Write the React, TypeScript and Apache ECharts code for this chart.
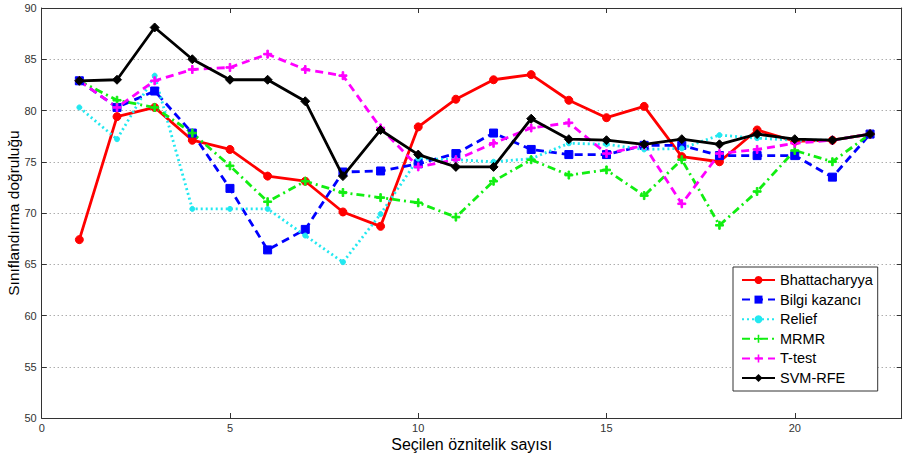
import React, { useEffect, useRef } from "react";
import * as echarts from "echarts";

const featureCounts = [1, 2, 3, 4, 5, 6, 7, 8, 9, 10, 11, 12, 13, 14, 15, 16, 17, 18, 19, 20, 21, 22];
const bhattacharyya = [67.4, 79.4, 80.3, 77.1, 76.2, 73.6, 73.1, 70.1, 68.7, 78.4, 81.1, 83.0, 83.5, 81.0, 79.3, 80.4, 75.5, 75.0, 78.1, 77.0, 77.1, 77.7];
const bilgiKazanci = [82.9, 80.3, 81.9, 77.8, 72.4, 66.4, 68.4, 74.0, 74.1, 74.8, 75.8, 77.8, 76.2, 75.7, 75.7, 76.6, 76.6, 75.6, 75.6, 75.6, 73.5, 77.7];
const relief = [80.3, 77.2, 83.4, 70.4, 70.4, 70.4, 67.8, 65.2, 69.9, 75.3, 75.2, 75.0, 75.3, 76.8, 76.7, 76.2, 76.3, 77.6, 77.3, 77.1, 77.1, 77.7];
const mrmr = [82.9, 81.0, 80.3, 77.8, 74.6, 71.1, 73.1, 72.0, 71.5, 71.0, 69.6, 73.1, 75.2, 73.7, 74.2, 71.7, 75.2, 68.8, 72.1, 76.1, 75.0, 77.7];
const tTest = [82.9, 80.3, 82.9, 84.0, 84.2, 85.5, 84.0, 83.4, 78.3, 74.5, 75.2, 76.8, 78.3, 78.8, 75.8, 76.6, 70.9, 75.8, 76.2, 76.8, 77.1, 77.7];
const svmRfe = [82.9, 83.0, 88.1, 85.0, 83.0, 83.0, 80.9, 73.6, 78.1, 75.7, 74.5, 74.5, 79.2, 77.2, 77.1, 76.7, 77.2, 76.7, 77.7, 77.2, 77.1, 77.7];

const xTicks = [0, 5, 10, 15, 20];
const yTicks = [50, 55, 60, 65, 70, 75, 80, 85, 90];

const plusPath = "path://M4 0h2v4h4v2h-4v4h-2v-4h-4v-2h4z";

const pair = (ys: number[]) => ys.map((v, i) => [featureCounts[i], v]);

export default function App() {
  const ref = useRef<HTMLDivElement>(null);
  useEffect(() => {
    if (!ref.current) return;
    const chart = echarts.init(ref.current, null, { renderer: "svg" });
    const font = "Arial, 'Liberation Sans', sans-serif";
    const axisColor = "#333";
    const mk = (name: string, data: number[], color: string, type: any, symbol: string, size: number, extra: any = {}) => ({
      name,
      type: "line",
      data: pair(data),
      symbol,
      symbolSize: size,
      showAllSymbol: true,
      lineStyle: { color, width: 2.8, type },
      itemStyle: { color, borderColor: color, ...(extra.itemStyle || {}) },
      z: extra.z || 2,
    });
    chart.setOption({
      animation: false,
      backgroundColor: "#fff",
      grid: { left: 41.7, right: 1.3, top: 8, bottom: 38, containLabel: false, outerBoundsMode: "none" },
      legend: {
        orient: "vertical",
        left: 733,
        top: 267,
        padding: [5.5, 5, 5.5, 8],
        itemWidth: 33,
        itemHeight: 10,
        itemGap: 4.6,
        borderColor: "#333",
        borderWidth: 1,
        backgroundColor: "#fff",
        textStyle: { fontSize: 14.5, fontFamily: font, color: "#000", lineHeight: 15 },
        data: ["Bhattacharyya", "Bilgi kazancı", "Relief", "MRMR", "T-test", "SVM-RFE"],
      },
      xAxis: [
        {
          type: "value",
          min: 0,
          max: 22.84,
          interval: 5,
          name: "Seçilen öznitelik sayısı",
          nameLocation: "middle",
          nameGap: 18,
          nameMoveOverlap: false,
          nameTextStyle: { fontSize: 16, fontFamily: font, color: "#000" },
          axisLine: { show: true, onZero: false, lineStyle: { color: axisColor, width: 1 } },
          axisTick: { show: true, inside: true, length: 5, lineStyle: { color: axisColor } },
          axisLabel: {
            fontSize: 11,
            fontFamily: font,
            color: "#333",
            margin: 4,
            showMaxLabel: false,
            formatter: (v: number) => (xTicks.includes(v) ? String(v) : ""),
          },
          splitLine: { show: false },
        },
        {
          type: "value",
          position: "top",
          min: 0,
          max: 22.84,
          interval: 5,
          axisLine: { show: true, onZero: false, lineStyle: { color: axisColor, width: 1 } },
          axisTick: { show: true, inside: true, length: 5, lineStyle: { color: axisColor } },
          axisLabel: { show: false },
          splitLine: { show: false },
        },
      ],
      yAxis: [
        {
          type: "value",
          min: 50,
          max: 90,
          interval: 5,
          name: "Sınıflandırma doğruluğu",
          nameLocation: "middle",
          nameGap: 20,
          nameMoveOverlap: false,
          nameTextStyle: { fontSize: 15.5, fontFamily: font, color: "#000" },
          axisLine: { show: true, onZero: false, lineStyle: { color: axisColor, width: 1 } },
          axisTick: { show: true, inside: true, length: 5, lineStyle: { color: axisColor } },
          axisLabel: {
            fontSize: 11,
            fontFamily: font,
            color: "#333",
            margin: 5,
            formatter: (v: number) => (yTicks.includes(v) ? String(v) : ""),
          },
          splitLine: { show: true, lineStyle: { color: "#888", type: [1, 3], width: 1 } },
        },
        {
          type: "value",
          position: "right",
          min: 50,
          max: 90,
          interval: 5,
          axisLine: { show: true, onZero: false, lineStyle: { color: axisColor, width: 1 } },
          axisTick: { show: true, inside: true, length: 5, lineStyle: { color: axisColor } },
          axisLabel: { show: false },
          splitLine: { show: false },
        },
      ],
      series: [
        mk("Bhattacharyya", bhattacharyya, "#ff0000", "solid", "circle", 8),
        mk("Bilgi kazancı", bilgiKazanci, "#0000ff", [8, 5], "rect", 8),
        mk("Relief", relief, "#22e8f0", [2, 3], "circle", 5),
        mk("MRMR", mrmr, "#11ee11", [8, 4, 2, 4], plusPath, 8),
        mk("T-test", tTest, "#ff00ff", [8, 5], plusPath, 8),
        mk("SVM-RFE", svmRfe, "#000000", "solid", "diamond", 9, { z: 3 }),
      ],
    });
    return () => chart.dispose();
  }, []);
  return <div ref={ref} style={{ width: 903, height: 456, position: "absolute", left: 0, top: 0 }} />;
}
